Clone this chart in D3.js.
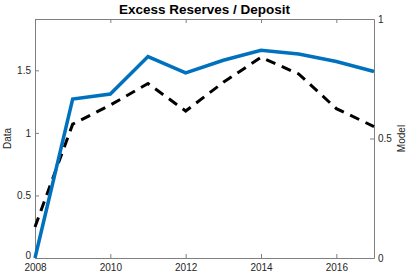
<!DOCTYPE html>
<html>
<head>
<meta charset="utf-8">
<script src="https://cdn.jsdelivr.net/npm/d3@7"></script>
<style>
  body { margin: 0; background: #fff; }
  text { font-family: "Liberation Sans", Arial, sans-serif; }
</style>
</head>
<body>
<div id="chart"></div>
<script>
// データ
var years = [2008, 2009, 2010, 2011, 2012, 2013, 2014, 2015, 2016, 2017];
var dataValues = [0, 1.27, 1.31, 1.61, 1.48, 1.58, 1.66, 1.63, 1.57, 1.49];
var modelValues = [0.13, 0.56, 0.64, 0.73, 0.615, 0.735, 0.84, 0.77, 0.625, 0.55];
var xTicks = [2008, 2010, 2012, 2014, 2016];
var leftTicks = [0, 0.5, 1, 1.5];
var rightTicks = [0, 0.5, 1];

var W = 409, H = 273;
var m = {top: 19, right: 35, bottom: 15, left: 35};
var iw = W - m.left - m.right, ih = H - m.top - m.bottom;

var svg = d3.select("#chart").append("svg").attr("width", W).attr("height", H);
var g = svg.append("g").attr("transform", "translate(" + m.left + "," + m.top + ")");

var x = d3.scaleLinear().domain([2008, 2017]).range([0, iw]);
var yL = d3.scaleLinear().domain([0, 1.91]).range([ih, 0]);
var yR = d3.scaleLinear().domain([0, 1]).range([ih, 0]);

var axisColor = "#262626";

// 軸
var xb = g.append("g").attr("transform", "translate(0," + ih + ")")
  .call(d3.axisBottom(x).tickValues(xTicks).tickFormat(d3.format("d")).tickSizeInner(-4).tickSizeOuter(0).tickPadding(4));
var xt = g.append("g")
  .call(d3.axisTop(x).tickValues(xTicks).tickFormat("").tickSizeInner(-4).tickSizeOuter(0));
var yl = g.append("g")
  .call(d3.axisLeft(yL).tickValues(leftTicks).tickFormat(d3.format("")).tickSizeInner(-4).tickSizeOuter(0).tickPadding(4));
var yr = g.append("g").attr("transform", "translate(" + iw + ",0)")
  .call(d3.axisRight(yR).tickValues(rightTicks).tickFormat(d3.format("")).tickSizeInner(-4).tickSizeOuter(0).tickPadding(4));

[xb, xt, yl, yr].forEach(function(a) {
  a.select(".domain").attr("stroke", "#7f7f7f").attr("stroke-width", 1);
  a.selectAll(".tick line").attr("stroke", "#7f7f7f");
  a.selectAll(".tick text").attr("fill", axisColor).style("font-size", "10px");
});
xb.selectAll(".tick text").attr("dy", "0.85em");
// 左下の「0」を少し上へ（2008と重ならないように）
yl.selectAll(".tick text").filter(function(d) { return d === 0; }).attr("dy", "0em");

// 線
var lineL = d3.line().x(function(d, i) { return x(years[i]); }).y(function(d) { return yL(d); });
var lineR = d3.line().x(function(d, i) { return x(years[i]); }).y(function(d) { return yR(d); });

g.append("path").datum(modelValues).attr("d", lineR)
  .attr("fill", "none").attr("stroke", "#000").attr("stroke-width", 3)
  .attr("stroke-dasharray", "10,7");
g.append("path").datum(dataValues).attr("d", lineL)
  .attr("fill", "none").attr("stroke", "#0072BD").attr("stroke-width", 3.5);

// ラベル
svg.append("text").attr("x", m.left + iw / 2).attr("y", 14)
  .attr("text-anchor", "middle").style("font-size", "13.5px").style("font-weight", "bold")
  .attr("fill", "#000").text("Excess Reserves / Deposit");
svg.append("text").attr("transform", "translate(11," + (m.top + ih / 2) + ") rotate(-90)")
  .attr("text-anchor", "middle").style("font-size", "10px").attr("fill", axisColor).text("Data");
svg.append("text").attr("transform", "translate(405," + (m.top + ih / 2) + ") rotate(-90)")
  .attr("text-anchor", "middle").style("font-size", "10px").attr("fill", axisColor).text("Model");
</script>
</body>
</html>
